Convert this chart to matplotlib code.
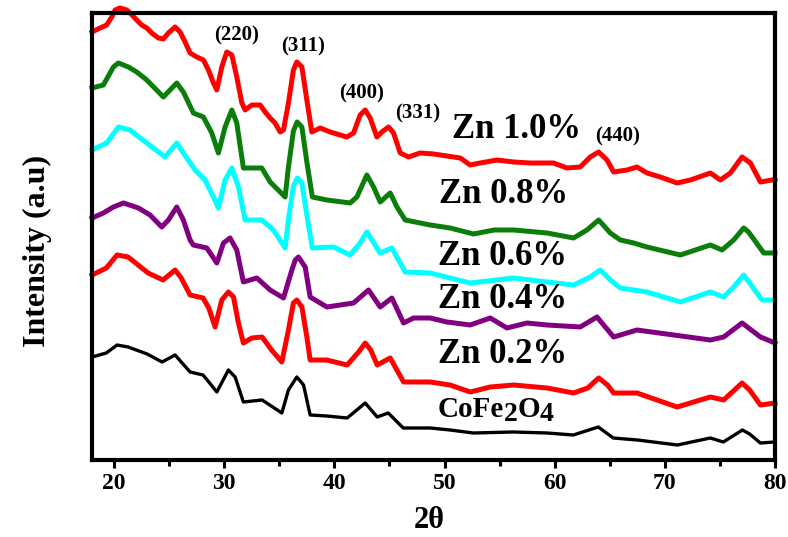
import matplotlib
matplotlib.use("Agg")
import matplotlib.pyplot as plt
from matplotlib.ticker import MultipleLocator

plt.rcParams["font.family"] = ["Liberation Serif", "DejaVu Serif"]
plt.rcParams["font.weight"] = "bold"

# XRD patterns (2theta, intensity in a.u., stacked)
tt_zn10 = [18.0, 18.73, 19.33, 19.79, 20.09, 20.54, 21.15, 21.45, 22.06, 22.51, 22.97, 23.42, 24.02,
           24.48, 24.93, 25.54, 25.99, 26.45, 26.90, 27.51, 28.11, 28.57, 29.02, 29.33, 29.78, 30.23,
           30.69, 31.14, 31.60, 31.90, 32.51, 33.26, 33.71, 34.17, 34.62, 35.08, 35.38, 35.83, 36.28,
           36.59, 37.05, 37.50, 37.95, 38.71, 39.62, 41.13, 41.74, 42.34, 42.80, 43.25, 43.86, 44.31,
           44.92, 45.37, 45.98, 46.73, 47.79, 49.00, 50.21, 51.43, 52.33, 53.24, 54.76, 56.27, 57.78,
           59.90, 61.11, 62.32, 63.23, 63.99, 64.75, 65.35, 66.57, 67.47, 68.38, 69.59, 71.11, 72.32,
           74.13, 75.04, 75.95, 77.01, 77.77, 78.68, 79.74, 80.0]
i_zn10 = [428, 432, 435, 443, 450, 452, 450, 447, 440, 435, 432, 427, 422,
          421, 427, 433, 428, 418, 407, 403, 400, 390, 377, 370, 393, 408,
          405, 383, 357, 350, 355, 355, 348, 342, 337, 328, 330, 357, 390,
          398, 393, 360, 328, 332, 328, 323, 327, 345, 350, 342, 323, 328,
          333, 327, 307, 303, 307, 306, 304, 302, 295, 297, 300, 298, 297,
          297, 292, 293, 303, 308, 300, 288, 290, 293, 287, 283, 277, 280,
          287, 280, 287, 303, 297, 278, 280, 281]

tt_zn08 = [18.0, 19.03, 19.94, 20.39, 21.30, 22.06, 22.97, 24.48, 25.08, 25.69, 26.29, 27.20, 28.11,
           28.87, 29.47, 30.08, 30.69, 31.14, 31.74, 32.35, 33.41, 34.17, 35.08, 35.53, 35.83, 36.28,
           36.62, 37.05, 37.50, 38.0, 39.32, 41.43, 42.04, 42.95, 43.56, 44.16, 45.07, 45.68, 46.43,
           48.70, 50.5, 52.63, 54.5, 56.27, 59.30, 61.72, 62.93, 63.99, 65.05, 65.96, 67.17, 68.38,
           71.41, 74.13, 75.19, 76.25, 77.16, 77.6, 78.98, 80.0]
i_zn08 = [372, 375, 393, 397, 393, 388, 380, 363, 370, 377, 368, 347, 343,
          327, 307, 333, 350, 337, 292, 292, 292, 278, 268, 263, 293, 329,
          338, 333, 298, 263, 260, 257, 263, 285, 273, 258, 267, 253, 240,
          235, 232, 226, 230, 230, 227, 222, 230, 240, 227, 220, 217, 213,
          205, 215, 210, 220, 232, 228, 207, 207]

tt_zn06 = [18.0, 19.33, 20.39, 21.45, 22.97, 24.63, 25.69, 26.29, 27.36, 28.26, 29.02, 29.47, 30.08,
           30.69, 31.29, 31.90, 33.41, 34.47, 35.53, 35.83, 36.28, 36.65, 37.05, 37.50, 38.0, 39.92,
           41.43, 42.34, 42.95, 44.16, 45.22, 46.43, 48.70, 50.5, 52.33, 56.27, 59.30, 61.72, 63.23,
           64.14, 65.05, 65.96, 68.38, 71.41, 74.13, 75.34, 76.25, 77.16, 78.83, 80.0]
i_zn06 = [310, 317, 333, 330, 317, 303, 317, 307, 290, 280, 263, 252, 280,
          292, 273, 240, 240, 230, 212, 240, 274, 282, 277, 245, 212, 213,
          205, 217, 228, 207, 212, 188, 187, 182, 177, 182, 178, 175, 183,
          190, 180, 172, 168, 158, 168, 163, 173, 185, 160, 160]

tt_zn04 = [18.0, 19.03, 19.94, 20.85, 22.21, 23.27, 24.33, 24.93, 25.69, 26.29, 26.90, 27.20, 28.42,
           29.33, 29.93, 30.53, 31.14, 31.74, 32.96, 34.17, 35.38, 36.14, 36.45, 36.74, 37.35, 37.80,
           39.32, 41.74, 43.10, 44.16, 45.22, 46.28, 47.19, 48.70, 50.21, 52.33, 54.15, 55.67, 57.48,
           59.30, 62.32, 63.84, 65.35, 67.47, 70.80, 74.13, 75.34, 77.01, 78.68, 80.0]
i_zn04 = [242, 247, 253, 257, 252, 245, 233, 240, 253, 240, 220, 215, 212,
          197, 217, 222, 210, 178, 182, 170, 162, 190, 200, 203, 193, 163,
          153, 157, 170, 153, 162, 137, 142, 142, 138, 135, 142, 132, 137,
          135, 133, 143, 123, 130, 125, 120, 123, 137, 123, 117]

tt_zn02 = [18.0, 19.3, 20.27, 21.27, 23.09, 24.45, 25.54, 26.1, 26.90, 28.08, 28.6, 29.17, 29.78,
           30.38, 30.84, 31.29, 31.74, 32.5, 33.44, 34.3, 35.23, 35.83, 36.28, 36.59, 37.05, 37.50,
           37.80, 39.3, 41.16, 42.2, 42.80, 43.3, 43.89, 45.07, 46.28, 48.70, 50.5, 52.33, 54.15,
           56.27, 59.30, 61.72, 63.0, 63.99, 64.8, 65.35, 67.47, 71.11, 74.13, 75.34, 77.01, 77.7,
           78.68, 80.0]
i_zn02 = [185, 192, 205, 203, 187, 180, 190, 182, 165, 162, 152, 133, 160,
          168, 163, 137, 117, 122, 123, 110, 98, 130, 157, 160, 153, 123,
          100, 100, 95, 108, 117, 110, 95, 102, 78, 78, 75, 68, 73,
          75, 72, 67, 72, 82, 75, 67, 67, 53, 63, 60, 77, 70,
          55, 57]

tt_cofe = [18.0, 19.3, 20.27, 21.27, 23.0, 24.36, 25.54, 26.1, 26.90, 28.08, 28.6, 29.33, 30.38,
           30.99, 31.74, 33.44, 35.23, 35.83, 36.59, 37.20, 37.80, 39.3, 41.16, 42.80, 43.89, 44.89,
           46.25, 48.70, 50.5, 52.61, 56.24, 59.3, 61.69, 63.96, 65.32, 67.50, 71.14, 74.13, 75.31,
           77.04, 77.7, 78.67, 80.0]
i_cofe = [103, 107, 115, 113, 106, 98, 105, 98, 88, 85, 78, 68, 90,
          83, 58, 60, 47, 70, 83, 75, 45, 44, 42, 57, 43, 47,
          32, 32, 30, 27, 28, 27, 25, 33, 22, 20, 15, 22, 18,
          30, 26, 17, 18]

series = [
    (tt_cofe, i_cofe, "black", 2.4),
    (tt_zn02, i_zn02, "#ff0000", 3.6),
    (tt_zn04, i_zn04, "#800080", 3.6),
    (tt_zn06, i_zn06, "#00ffff", 3.6),
    (tt_zn08, i_zn08, "#0b7d0b", 3.6),
    (tt_zn10, i_zn10, "#ff0000", 3.6),
]

sample_labels = ["Zn 1.0%", "Zn 0.8%", "Zn 0.6%", "Zn 0.4%", "Zn 0.2%"]
sample_label_pos = [(50.70, 322), (49.52, 257), (49.43, 195), (49.43, 152), (49.43, 97)]

hkl_labels = ["(220)", "(311)", "(400)", "(331)", "(440)"]
hkl_pos = [(31.08, 420), (37.17, 409), (42.43, 362), (47.52, 342), (65.69, 319)]

fig = plt.figure(figsize=(7.88, 5.37), dpi=100)
ax = fig.add_axes([0.1168, 0.1434, 0.8667, 0.8324])

for tt, inten, col, lw in series:
    ax.plot(tt, inten, color=col, lw=lw, solid_joinstyle="round", clip_on=False)

ax.set_xlim(18, 80)
ax.set_ylim(0, 447)
ax.xaxis.set_major_locator(MultipleLocator(10))
ax.xaxis.set_minor_locator(MultipleLocator(5))
ax.set_yticks([])
ax.tick_params(axis="x", which="major", direction="out", length=6, width=2.2, pad=3.5, labelsize=17)
ax.tick_params(axis="x", which="minor", direction="out", length=4.5, width=2.2)
for lab in ax.get_xticklabels():
    lab.set_fontweight("bold")
for sp in ax.spines.values():
    sp.set_linewidth(3)

for s, (x, y) in zip(sample_labels, sample_label_pos):
    ax.text(x, y, s, fontsize=25, fontweight="bold", ha="left", va="baseline")

for s, (x, y) in zip(hkl_labels, hkl_pos):
    ax.text(x, y, s, fontsize=15, fontweight="bold", ha="center", va="baseline")

# CoFe2O4 with large subscripts
t1 = ax.text(49.34, 43, "CoFe", fontsize=21, fontweight="bold", ha="left", va="baseline")
t2 = ax.annotate("2", xy=(1, 0), xycoords=t1, xytext=(0, -3), textcoords="offset points",
                 fontsize=20, fontweight="bold", ha="left", va="bottom")
t3 = ax.annotate("O", xy=(1, 0), xycoords=t2, xytext=(0, 3), textcoords="offset points",
                 fontsize=21, fontweight="bold", ha="left", va="bottom")
ax.annotate("4", xy=(1, 0), xycoords=t3, xytext=(0, -3), textcoords="offset points",
            fontsize=20, fontweight="bold", ha="left", va="bottom")

ax.set_xlabel("2θ", fontsize=22, fontweight="bold")
ax.xaxis.set_label_coords(0.4934, -0.103)
ax.set_ylabel("Intensity (a.u)", fontsize=23, fontweight="bold")
ax.yaxis.set_label_coords(-0.058, 0.4676)

fig.savefig("out.png", dpi=100)
